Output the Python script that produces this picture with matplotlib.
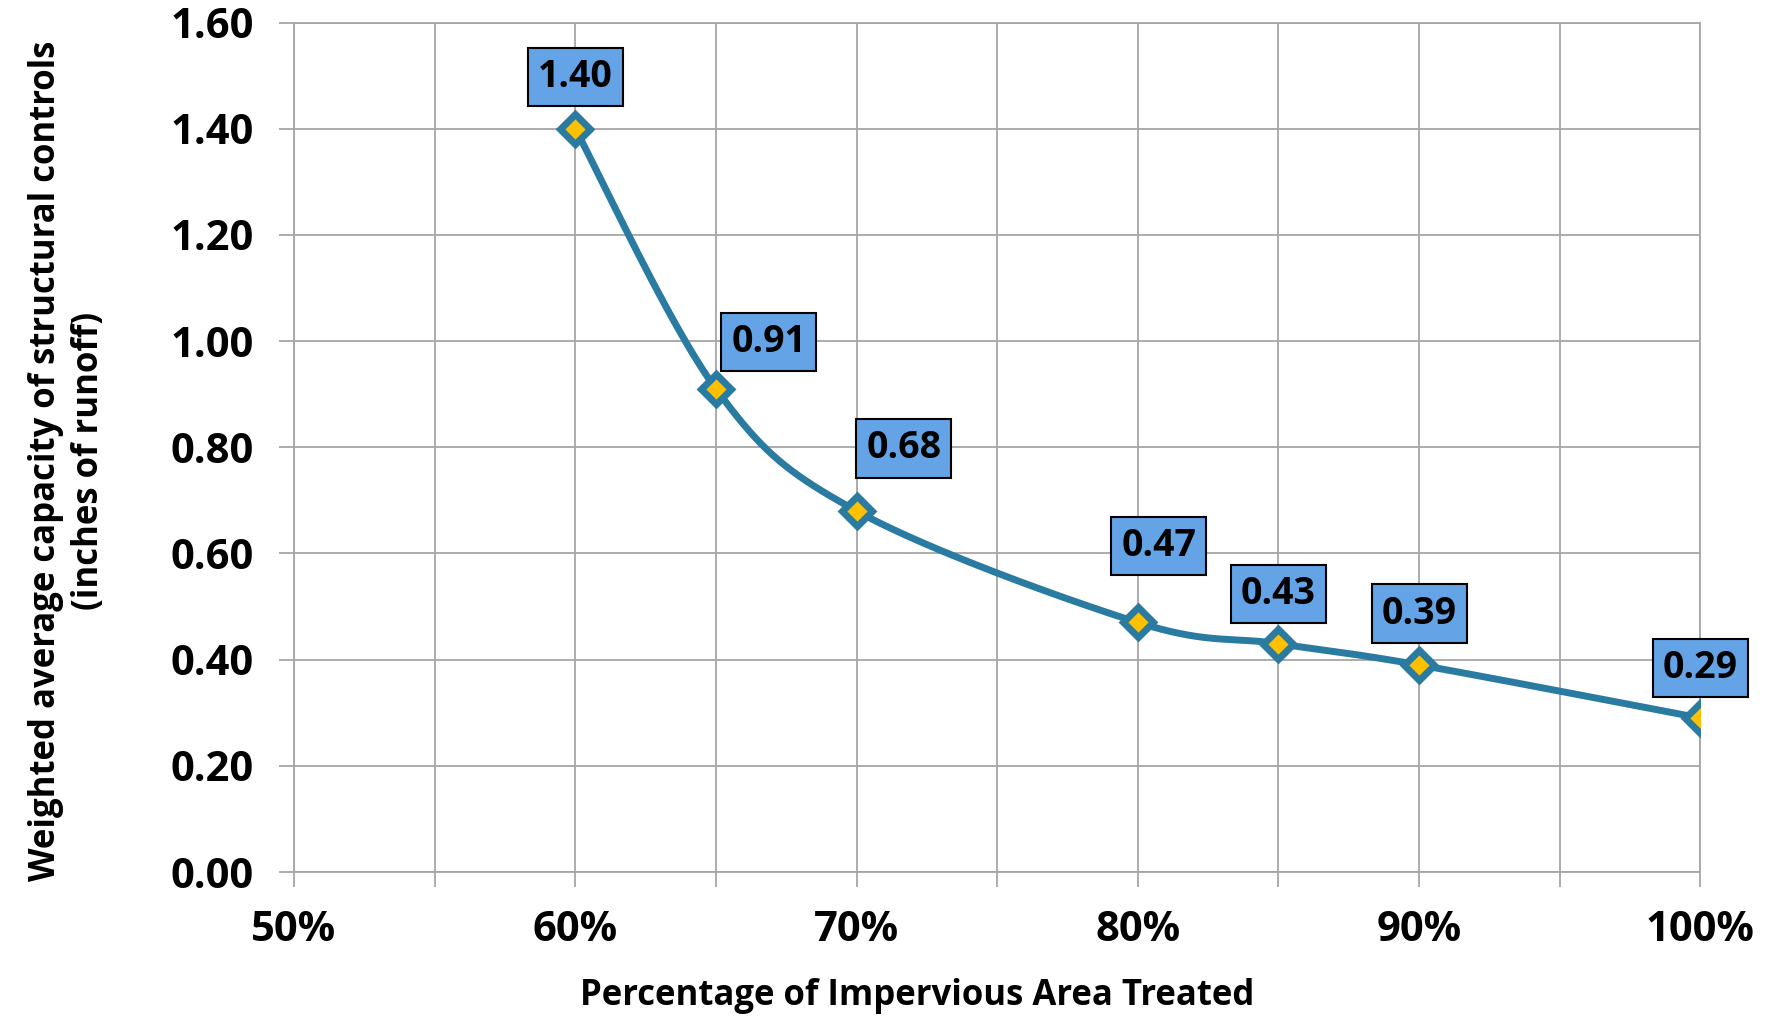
import numpy as np
import matplotlib
matplotlib.use("Agg")
import matplotlib.pyplot as plt
from matplotlib.ticker import MultipleLocator, FuncFormatter

# data
pct_treated = [0.60, 0.65, 0.70, 0.80, 0.85, 0.90, 1.00]
capacity = [1.40, 0.91, 0.68, 0.47, 0.43, 0.39, 0.29]
label_text = ["1.40", "0.91", "0.68", "0.47", "0.43", "0.39", "0.29"]

plt.rcParams['font.family'] = ['Open Sans', 'DejaVu Sans']
plt.rcParams['font.weight'] = 'bold'

LINE_BLUE = "#2a7ba1"
BOX_BLUE = "#64a3e6"
GRID = "#a6a6a6"


def smooth_curve(xs, ys, n=40):
    """Excel-like smoothed line (cubic bezier through points)"""
    pts = np.column_stack([xs, ys])
    out = []
    for i in range(len(pts) - 1):
        p0 = pts[i - 1] if i > 0 else pts[i]
        p1 = pts[i]
        p2 = pts[i + 1]
        p3 = pts[i + 2] if i + 2 < len(pts) else pts[i + 1]
        c1 = p1 + (p2 - p0) / 6.0
        c2 = p2 - (p3 - p1) / 6.0
        t = np.linspace(0, 1, n)[:, None]
        seg = ((1 - t) ** 3) * p1 + 3 * ((1 - t) ** 2) * t * c1 + 3 * (1 - t) * t ** 2 * c2 + t ** 3 * p2
        out.append(seg if i == 0 else seg[1:])
    seg = np.vstack(out)
    return seg[:, 0], seg[:, 1]


fig = plt.figure(figsize=(17.75, 10.23), dpi=100)
ax = fig.add_axes([0.1656, 0.1476, 0.7924, 0.8304])

sx, sy = smooth_curve(pct_treated, capacity)
ax.plot(sx, sy, color=LINE_BLUE, lw=5, zorder=3, solid_capstyle='round')
ax.plot(pct_treated, capacity, linestyle='none', marker='D', markersize=15,
        markerfacecolor="#ffc000", markeredgecolor=LINE_BLUE, markeredgewidth=5, zorder=4)

# label offsets in points (box centre relative to the point)
offsets = [(0, 37), (38, 34), (34, 45), (15, 55), (0, 36), (0, 37), (0, 36)]
for x, y, t, off in zip(pct_treated, capacity, label_text, offsets):
    ax.annotate(t, (x, y), xytext=off, textcoords='offset points',
                ha='center', va='center', fontsize=27, fontweight='bold', color='black',
                bbox=dict(boxstyle='square,pad=0.27', fc=BOX_BLUE, ec='black', lw=1.5),
                zorder=5)

ax.set_xlim(0.5, 1.0)
ax.set_ylim(0, 1.6)
ax.xaxis.set_major_locator(MultipleLocator(0.05))
ax.yaxis.set_major_locator(MultipleLocator(0.2))
ax.xaxis.set_major_formatter(FuncFormatter(
    lambda v, p: f"{v * 100:.0f}%" if round(v * 100) % 10 == 0 else ""))
ax.yaxis.set_major_formatter(FuncFormatter(lambda v, p: f"{v:.2f}"))

ax.grid(True, color=GRID, lw=1.3, zorder=0)
ax.set_axisbelow(True)
for s in ax.spines.values():
    s.set_color(GRID)
    s.set_linewidth(1.3)
ax.tick_params(axis='both', direction='out', length=11, width=1.3, color=GRID,
               labelsize=30)
ax.tick_params(axis='y', pad=18)
ax.tick_params(axis='x', pad=16)
for lbl in ax.get_xticklabels() + ax.get_yticklabels():
    lbl.set_fontweight('bold')

ax.set_xlabel("Percentage of Impervious Area Treated", fontsize=25, fontweight='bold', labelpad=20)
ax.xaxis.label.set_x(0.443)
ax.set_ylabel("Weighted average capacity of structural controls\n(inches of runoff)",
              fontsize=25, fontweight='bold', linespacing=1.25)
ax.yaxis.set_label_coords(-0.133, 0.484)

fig.savefig("out.png", dpi=100)
